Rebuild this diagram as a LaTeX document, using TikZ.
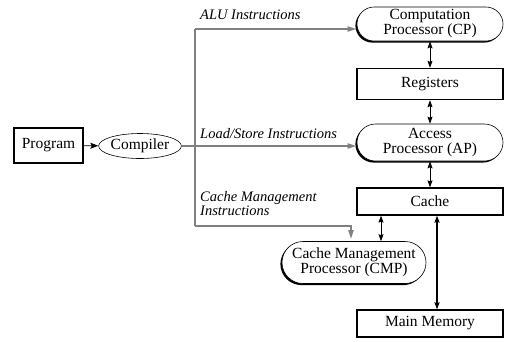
\documentclass[tikz,border=0pt]{standalone}
\usepackage{fontspec}
\setmainfont{Liberation Serif}
\usetikzlibrary{shapes.geometric,shadows,arrows.meta}
\definecolor{linegray}{RGB}{128,128,128}
\begin{document}
\begin{tikzpicture}[x=1pt,y=-1pt,
  txt/.style={font=\fontsize{15.5}{15}\selectfont},
  box/.style={txt,draw,line width=1.3pt,minimum width=146pt,inner sep=0pt,align=center},
  proc/.style={txt,draw,line width=0.6pt,fill=white,minimum width=146pt,inner sep=0pt,align=center,
     drop shadow={shadow xshift=-1.6pt,shadow yshift=-1.6pt,fill=black,opacity=1}},
  lbl/.style={font=\fontsize{14.5}{14}\selectfont\itshape,inner sep=0pt,anchor=west,align=left},
  blk/.style={line width=0.8pt,-{Stealth[length=8pt,width=6pt,inset=1.5pt]}},
  dbl/.style={line width=0.8pt,{Stealth[length=7pt,width=5pt,inset=1pt]}-{Stealth[length=7pt,width=5pt,inset=1pt]}},
  gry/.style={draw=linegray,line width=1.8pt},
  gryarrow/.style={gry,-{Triangle[length=9pt,width=5pt]},linegray}
]
\useasboundingbox (0,0) rectangle (506,341);

\node[box,minimum width=69pt,minimum height=35pt,line width=1.6pt] (prog) at (48.5,145.5) {Program};
\node[txt,ellipse,draw,line width=0.6pt,minimum width=80pt,minimum height=25pt,inner sep=0pt] (comp) at (140,146) {Compiler};

\node[proc,minimum height=34pt,rounded corners=17pt] (cp) at (430,24) {Computation\\Processor (CP)};
\node[box,minimum height=31pt] (reg) at (430,84) {Registers};
\node[proc,minimum height=37pt,rounded corners=18.5pt] (ap) at (430,142.5) {Access\\Processor (AP)};
\node[box,minimum height=27pt] (cache) at (430,201.5) {Cache};
\node[proc,minimum width=144pt,minimum height=42pt,rounded corners=21pt] (cmp) at (354,262.5) {Cache Management\\Processor (CMP)};
\node[box,minimum height=27pt] (mem) at (430,323.5) {Main Memory};

\coordinate (t1) at (195,29);
\coordinate (t2) at (195,226);
\coordinate (g3) at (351,226);
\coordinate (c1) at (381,0);
\coordinate (c2) at (437,0);

\draw[blk] (prog) -- (comp);
\draw[dbl] (cp) -- (reg);
\draw[dbl] (reg) -- (ap);
\draw[dbl] (ap) -- (cache);
\draw[dbl] (c1 |- cache.south) -- (c1 |- cmp.north);
\draw[dbl,line width=1.3pt] (c2 |- cache.south) -- (c2 |- mem.north);

\draw[gry] (t1) -- (t2);
\draw[gryarrow] (t1) -- (t1 -| cp.west);
\draw[gryarrow] (comp.east) -- (comp.east -| ap.west);
\draw[gryarrow,shorten >=2pt] (t2) -- (g3) -- (g3 |- cmp.north);

\node[lbl] (l1) at (200,15) {ALU Instructions};
\node[lbl] (l2) at (200,134) {Load/Store Instructions};
\node[lbl] (l3) at (200,204) {Cache Management\\Instructions};
\end{tikzpicture}
\end{document}
